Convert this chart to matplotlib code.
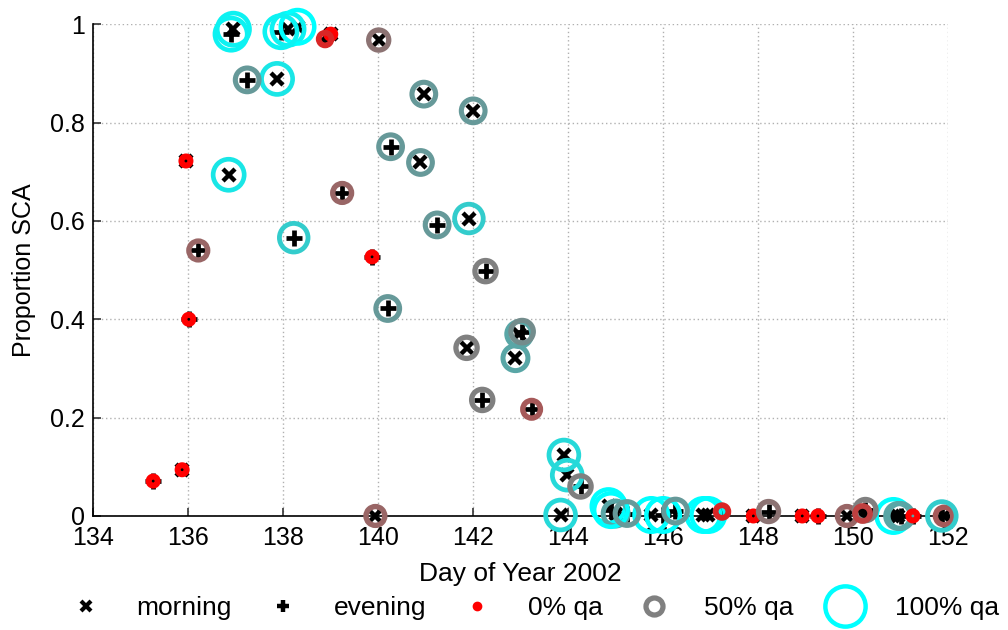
import numpy as np
import matplotlib
matplotlib.use("Agg")
import matplotlib.pyplot as plt
from matplotlib.lines import Line2D

plt.rcParams['font.family'] = ['Liberation Sans', 'DejaVu Sans']

# morning passes (x markers): day of year, proportion SCA, qa fraction
morn_day = [136.95, 138.1, 138.3, 139.0, 140.01, 137.87, 140.96, 142.0,
            135.95, 136.85, 140.89, 141.91, 141.86, 142.89, 142.97, 135.87,
            139.94, 143.91, 143.98, 143.84, 144.85, 145.0, 145.75, 146.85,
            146.95, 147.9, 148.93, 149.87, 150.85, 150.95, 151.92]
morn_sca = [0.99, 0.99, 0.995, 0.98, 0.968, 0.889, 0.858, 0.824,
            0.722, 0.694, 0.719, 0.605, 0.342, 0.321, 0.37, 0.094,
            0.0, 0.124, 0.083, 0.002, 0.02, 0.005, 0.002, 0.002,
            0.002, 0.0, 0.0, 0.0, 0.0, 0.0, 0.0]
morn_qa = [0.95, 0.95, 1.0, 0.0, 0.45, 0.9, 0.6, 0.6,
           0.0, 0.9, 0.6, 0.8, 0.5, 0.65, 0.65, 0.0,
           0.4, 0.85, 0.85, 0.85, 1.0, 0.65, 1.0, 1.0,
           1.0, 0.0, 0.0, 0.4, 1.0, 0.65, 0.35]

# evening passes (+ markers)
eve_day = [136.9, 137.95, 138.88, 137.24, 140.26, 141.24, 139.24, 136.21,
           138.22, 139.87, 142.26, 136.01, 140.2, 143.03, 142.19, 143.23,
           135.26, 144.26, 144.9, 145.24, 146.0, 146.26, 147.24, 148.22,
           149.26, 150.26, 150.2, 151.0, 151.26, 151.87]
eve_sca = [0.98, 0.985, 0.97, 0.887, 0.751, 0.592, 0.657, 0.540,
           0.566, 0.527, 0.498, 0.40, 0.422, 0.375, 0.236, 0.217,
           0.071, 0.06, 0.012, 0.005, 0.002, 0.01, 0.009, 0.009,
           0.0, 0.012, 0.005, 0.0, 0.0, 0.0]
eve_qa = [0.95, 0.95, 0.15, 0.6, 0.6, 0.6, 0.4, 0.4,
          0.8, 0.0, 0.5, 0.0, 0.6, 0.55, 0.5, 0.35,
          0.0, 0.5, 1.0, 0.6, 1.0, 0.6, 0.15, 0.45,
          0.0, 0.5, 0.25, 0.65, 0.0, 0.8]

PX = 100 / 72.0  # pixels per point at dpi 100


def qa_color(q):
    red = np.array([1.0, 0.0, 0.0])
    gray = np.array([0.5, 0.5, 0.5])
    cyan = np.array([0.0, 1.0, 1.0])
    if q <= 0.5:
        return tuple(red + (gray - red) * q / 0.5)
    return tuple(gray + (cyan - gray) * (q - 0.5) / 0.5)


def ring_style(q):
    lw_px = 6.0 - 1.5 * q
    outer = 15 + 23 * q
    ms = (outer - lw_px) / PX
    return ms, lw_px / PX


fig = plt.figure(figsize=(10.08, 6.3), dpi=100)
ax = fig.add_axes([0.0926, 0.181, 0.8479, 0.7804])

ax.plot(morn_day, morn_sca, ls='none', marker='x', color='k', ms=9, mew=3.2,
        zorder=2, clip_on=False)
ax.plot(eve_day, eve_sca, ls='none', marker='+', color='k', ms=11, mew=3.4,
        zorder=2, clip_on=False)

all_day = morn_day + eve_day
all_sca = morn_sca + eve_sca
all_qa = morn_qa + eve_qa
sizes, widths, cols = [], [], []
for q in all_qa:
    ms, lw = ring_style(q)
    sizes.append(ms ** 2)
    widths.append(lw)
    cols.append(qa_color(q))
ax.scatter(all_day, all_sca, s=sizes, facecolors='none', edgecolors=cols,
           linewidths=widths, zorder=3, clip_on=False)

ax.set_xlim(134, 152)
ax.set_ylim(0, 1)
ax.set_xticks(np.arange(134, 153, 2))
ax.set_yticks([0, 0.2, 0.4, 0.6, 0.8, 1])
ax.set_yticklabels(['0', '0.2', '0.4', '0.6', '0.8', '1'])
ax.grid(True, ls=(0, (1, 2)), color='#b0b0b0', lw=1.0)
for s in ['top', 'right']:
    ax.spines[s].set_visible(False)
for s in ['left', 'bottom']:
    ax.spines[s].set_linewidth(1.2)
ax.tick_params(direction='in', length=6, width=1.2, labelsize=18,
               colors='#333333', labelcolor='k')
ax.tick_params(axis='x', pad=7)
ax.tick_params(axis='y', pad=6)
ax.set_xlabel('Day of Year 2002', fontsize=19, labelpad=9)
ax.set_ylabel('Proportion SCA', fontsize=18, labelpad=10)

ms5, lw5 = ring_style(0.5)
handles = [
    Line2D([], [], ls='none', marker='x', color='k', ms=7, mew=3),
    Line2D([], [], ls='none', marker='+', color='k', ms=9, mew=3.2),
    Line2D([], [], ls='none', marker='o', color='red', ms=6),
    Line2D([], [], ls='none', marker='o', mfc='none', mec=(0.5, 0.5, 0.5),
           ms=ms5 * 0.8, mew=lw5),
    Line2D([], [], ls='none', marker='o', mfc='none', mec=(0, 1, 1),
           ms=29, mew=3.2),
]
labels = ['morning', 'evening', '0% qa', '50% qa', '100% qa']
fig.legend(handles, labels, loc='center', bbox_to_anchor=(0.532, 0.035),
           ncol=5, frameon=False, fontsize=19, handlelength=1.0,
           handletextpad=1.4, columnspacing=1.45)

fig.savefig('out.png', dpi=100)
